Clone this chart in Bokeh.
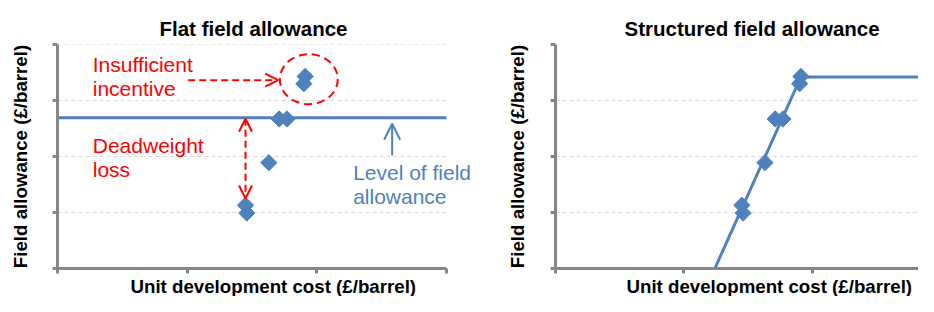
from math import pi
from bokeh.plotting import figure
from bokeh.models import Label, Arrow, OpenHead, FixedTicker, Title
from bokeh.layouts import row
from bokeh.embed import file_html
from bokeh.resources import INLINE

# ---- data ----
x_ticks = [0, 1, 2, 3]
y_ticks = [0, 1, 2, 3, 4]
field_cost = [1.45, 1.46, 1.63, 1.71, 1.77, 1.90, 1.91]
required_allowance = [1.13, 0.99, 1.89, 2.67, 2.67, 3.30, 3.43]
flat_cost = [0, 3]
flat_allowance = [2.69, 2.69]
structured_cost = [1.24, 1.91, 3.0]
structured_allowance = [0.0, 3.42, 3.42]

titles = ["Flat field allowance", "Structured field allowance"]
x_label = "Unit development cost (£/barrel)"
y_label = "Field allowance (£/barrel)"

BLUE = "#4F81BD"
RED = "#FF0000"
AXIS = "#868686"
GRID = "#D9D9D9"
FONT = "Liberation Sans"


def make_fig(width, border_left, x_end, title, title_offset, xlab_offset,
             ylab_standoff):
    p = figure(width=width, height=296, x_range=(0, x_end), y_range=(0, 4),
               output_backend="svg", toolbar_location=None,
               min_border_left=border_left, min_border_right=0,
               min_border_top=44, min_border_bottom=27)
    p.outline_line_color = None
    p.title.text = title
    p.title.align = "left"
    p.title.offset = title_offset
    p.title.text_font = FONT
    p.title.text_font_size = "20.5px"
    p.title.text_font_style = "bold"
    p.title.text_color = "black"
    p.title.standoff = 10
    for ax, ticks in ((p.xaxis, x_ticks), (p.yaxis, y_ticks)):
        ax.ticker = FixedTicker(ticks=ticks)
        ax.major_label_overrides = {t: "" for t in ticks}
        ax.major_label_text_font_size = "1px"
        ax.major_label_standoff = 0
        ax.axis_line_color = AXIS
        ax.axis_line_width = 3
        ax.major_tick_line_color = AXIS
        ax.major_tick_line_width = 3
        ax.major_tick_out = 5
        ax.major_tick_in = 0
        ax.minor_tick_out = 0
        ax.minor_tick_in = 0
    p.yaxis.axis_label = y_label
    p.yaxis.axis_label_text_font = FONT
    p.yaxis.axis_label_text_font_size = "18.7px"
    p.yaxis.axis_label_text_font_style = "bold"
    p.yaxis.axis_label_text_color = "black"
    p.yaxis.axis_label_standoff = ylab_standoff
    p.add_layout(Title(text=x_label, align="left", offset=xlab_offset,
                       text_font=FONT, text_font_size="18.7px",
                       text_font_style="bold", text_color="black",
                       standoff=0), "below")
    p.xgrid.visible = False
    p.ygrid.ticker = FixedTicker(ticks=y_ticks)
    p.ygrid.grid_line_color = GRID
    p.ygrid.grid_line_dash = "4 3"
    p.ygrid.grid_line_width = 1
    return p


def note(p, x, y, text, color):
    p.add_layout(Label(x=x, y=y, text=text, text_align="left",
                       text_baseline="alphabetic", text_font=FONT,
                       text_font_size="21px", text_color=color))


# ---- left: flat field allowance ----
p1 = make_fig(474, 57, 3.216, titles[0], 102, 73, 22)
p1.xaxis.bounds = (x_ticks[0], x_ticks[-1])
p1.ygrid.visible = False
p1.segment(x0=[x_ticks[0]] * (len(y_ticks) - 1), y0=y_ticks[1:],
           x1=[x_ticks[-1]] * (len(y_ticks) - 1), y1=y_ticks[1:],
           line_color=GRID, line_dash="4 3", line_width=1)
p1.line(flat_cost, flat_allowance, line_color=BLUE, line_width=3)
p1.scatter(field_cost, required_allowance, marker="square", size=11.5,
           angle=pi / 4, fill_color=BLUE, line_color=BLUE)
p1.ellipse(x=[1.938], y=[3.38], width=58, height=50, width_units="screen",
           height_units="screen", fill_color=None, line_color=RED,
           line_width=2, line_dash="8 5")
p1.add_layout(Arrow(end=OpenHead(size=13, line_color=RED, line_width=2),
                    x_start=1.008, y_start=3.363, x_end=1.702, y_end=3.363,
                    line_color=RED, line_width=2, line_dash="7 4"))
p1.add_layout(Arrow(start=OpenHead(size=13, line_color=RED, line_width=2),
                    end=OpenHead(size=13, line_color=RED, line_width=2),
                    x_start=1.45, y_start=2.673, x_end=1.45, y_end=1.251,
                    line_color=RED, line_width=2, line_dash="7 4"))
p1.add_layout(Arrow(end=OpenHead(size=16, line_color=BLUE, line_width=2),
                    x_start=2.581, y_start=2.018, x_end=2.581, y_end=2.584,
                    line_color=BLUE, line_width=2))
note(p1, 0.272, 3.635, "Insufficient", RED)
note(p1, 0.272, 3.215, "incentive", RED)
note(p1, 0.272, 2.20, "Deadweight", RED)
note(p1, 0.272, 1.776, "loss", RED)
note(p1, 2.28, 1.709, "Level of field", BLUE)
note(p1, 2.28, 1.293, "allowance", BLUE)

# ---- right: structured field allowance ----
p2 = make_fig(444, 81, 2.825, titles[1], 69, 71, 23)
p2.line(structured_cost, structured_allowance, line_color=BLUE, line_width=3)
p2.scatter(field_cost, required_allowance, marker="square", size=11.5,
           angle=pi / 4, fill_color=BLUE, line_color=BLUE)

layout = row(p1, p2)
open("out.html", "w").write(file_html(layout, INLINE))
